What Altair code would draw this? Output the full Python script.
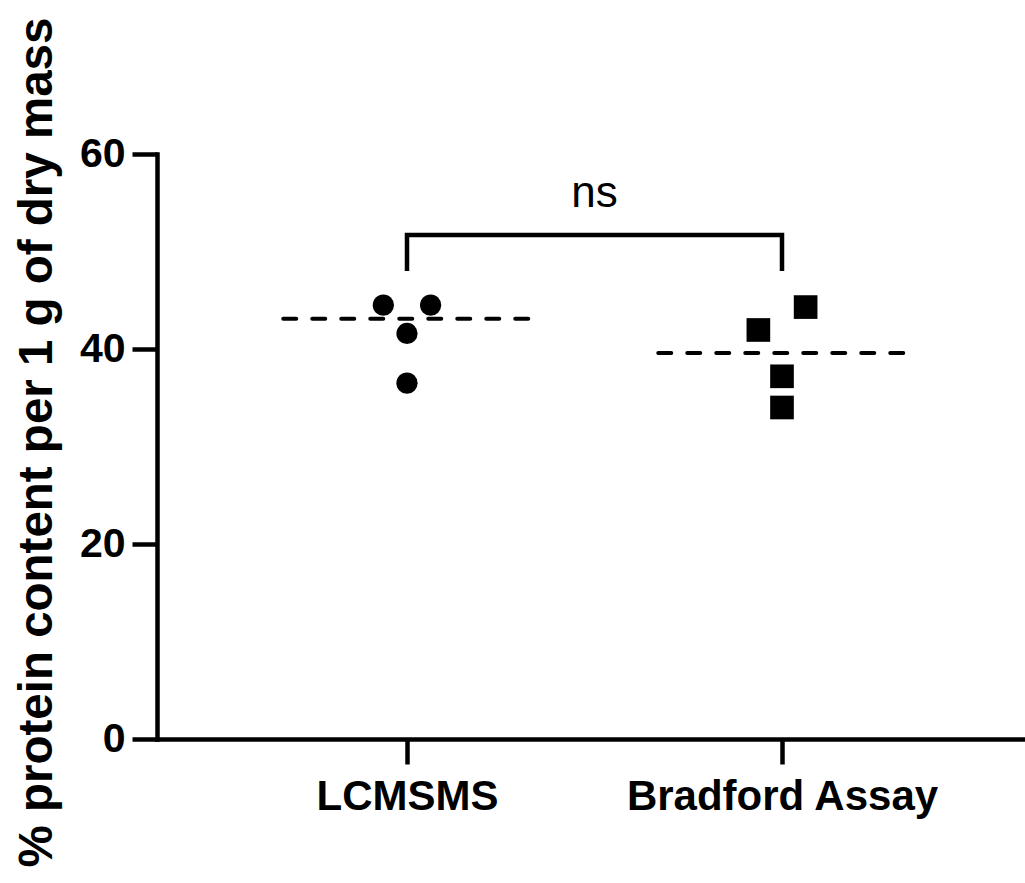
import altair as alt
import pandas as pd

# ---- data ----
categories = ["LCMSMS", "Bradford Assay"]
lcmsms_values = [44.5, 44.5, 41.6, 36.5]
lcmsms_jitter = [-1, 1, 0, 0]
bradford_values = [41.95, 44.3, 37.2, 34.0]
bradford_jitter = [-1, 1, 0, 0]
means = [43.1, 39.6]
bracket_low = 48.0
bracket_high = 51.7
ns_label = "ns"
ns_y = 54.6
y_ticks = [0, 20, 40, 60]

JIT = 0.063   # horizontal spread of scattered points (x units)
HALF = 0.33   # half width of mean line (x units)

pts_l = pd.DataFrame({"pos": [1 + j * JIT for j in lcmsms_jitter], "val": lcmsms_values})
pts_b = pd.DataFrame({"pos": [2 + j * JIT for j in bradford_jitter], "val": bradford_values})
mean_df = pd.DataFrame({
    "x1": [i + 1 - HALF for i in range(len(categories))],
    "x2": [i + 1 + HALF for i in range(len(categories))],
    "m": means,
})
bracket_df = pd.DataFrame({
    "pos": [1, 1, 2, 2],
    "val": [bracket_low, bracket_high, bracket_high, bracket_low],
    "o": [0, 1, 2, 3],
})
ns_df = pd.DataFrame({"pos": [1.5], "val": [ns_y], "t": [ns_label]})

label_expr = " : ".join(
    [f"datum.value == {i + 1} ? '{c}'" for i, c in enumerate(categories)]
) + " : ''"

FONT = "Liberation Sans"

xscale = alt.Scale(domain=[1 - 250 / 375, 1 + 618 / 375], nice=False, zero=False)
yscale = alt.Scale(domain=[0, 60], nice=False)

xaxis = alt.Axis(values=[1, 2], labelExpr=label_expr, title=None, grid=False,
                 tickSize=25, labelPadding=12, labelFontSize=42, labelLimit=0)
yaxis = alt.Axis(values=y_ticks, title="% protein content per 1 g of dry mass", grid=False,
                 tickSize=25, labelPadding=7, labelFontSize=41,
                 titleFontSize=47.5, titleFont=FONT, titleFontWeight="bold",
                 titleX=-106, titleY=288, titleBaseline="alphabetic", titleAlign="center",
                 titleColor="black", titleLimit=0)

X = alt.X("pos:Q", scale=xscale, axis=xaxis)
Y = alt.Y("val:Q", scale=yscale, axis=yaxis)

circles = alt.Chart(pts_l).mark_point(shape="circle", filled=True, size=450, color="black", opacity=1).encode(x=X, y=Y)
squares = alt.Chart(pts_b).mark_point(shape="square", filled=True, size=560, color="black", opacity=1).encode(
    x=alt.X("pos:Q", scale=xscale), y=alt.Y("val:Q", scale=yscale))

mean_lines = alt.Chart(mean_df).mark_rule(color="black", strokeWidth=4, strokeDash=[13, 16], strokeCap="round").encode(
    x=alt.X("x1:Q", scale=xscale), x2="x2:Q", y=alt.Y("m:Q", scale=yscale))

bracket = alt.Chart(bracket_df).mark_line(color="black", strokeWidth=4.5, strokeJoin="miter").encode(
    x=alt.X("pos:Q", scale=xscale), y=alt.Y("val:Q", scale=yscale), order="o:Q")

ns_text = alt.Chart(ns_df).mark_text(font=FONT, fontSize=44, fontWeight="normal", color="black",
                                     baseline="alphabetic", align="center").encode(
    x=alt.X("pos:Q", scale=xscale), y=alt.Y("val:Q", scale=yscale), text="t:N")

chart = alt.layer(circles, squares, mean_lines, bracket, ns_text).properties(
    width=868, height=585,
    autosize=alt.AutoSizeParams(type="none"),
    padding={"left": 157, "top": 154, "right": 0, "bottom": 144},
    background="white",
).configure_view(stroke=None).configure_axis(
    domainColor="black", domainWidth=4.5, domainCap="square",
    tickColor="black", tickWidth=4.5,
    labelColor="black", labelFont=FONT, labelFontWeight="bold",
)

chart.save("out.html", embed_options={"renderer": "svg", "actions": False})
